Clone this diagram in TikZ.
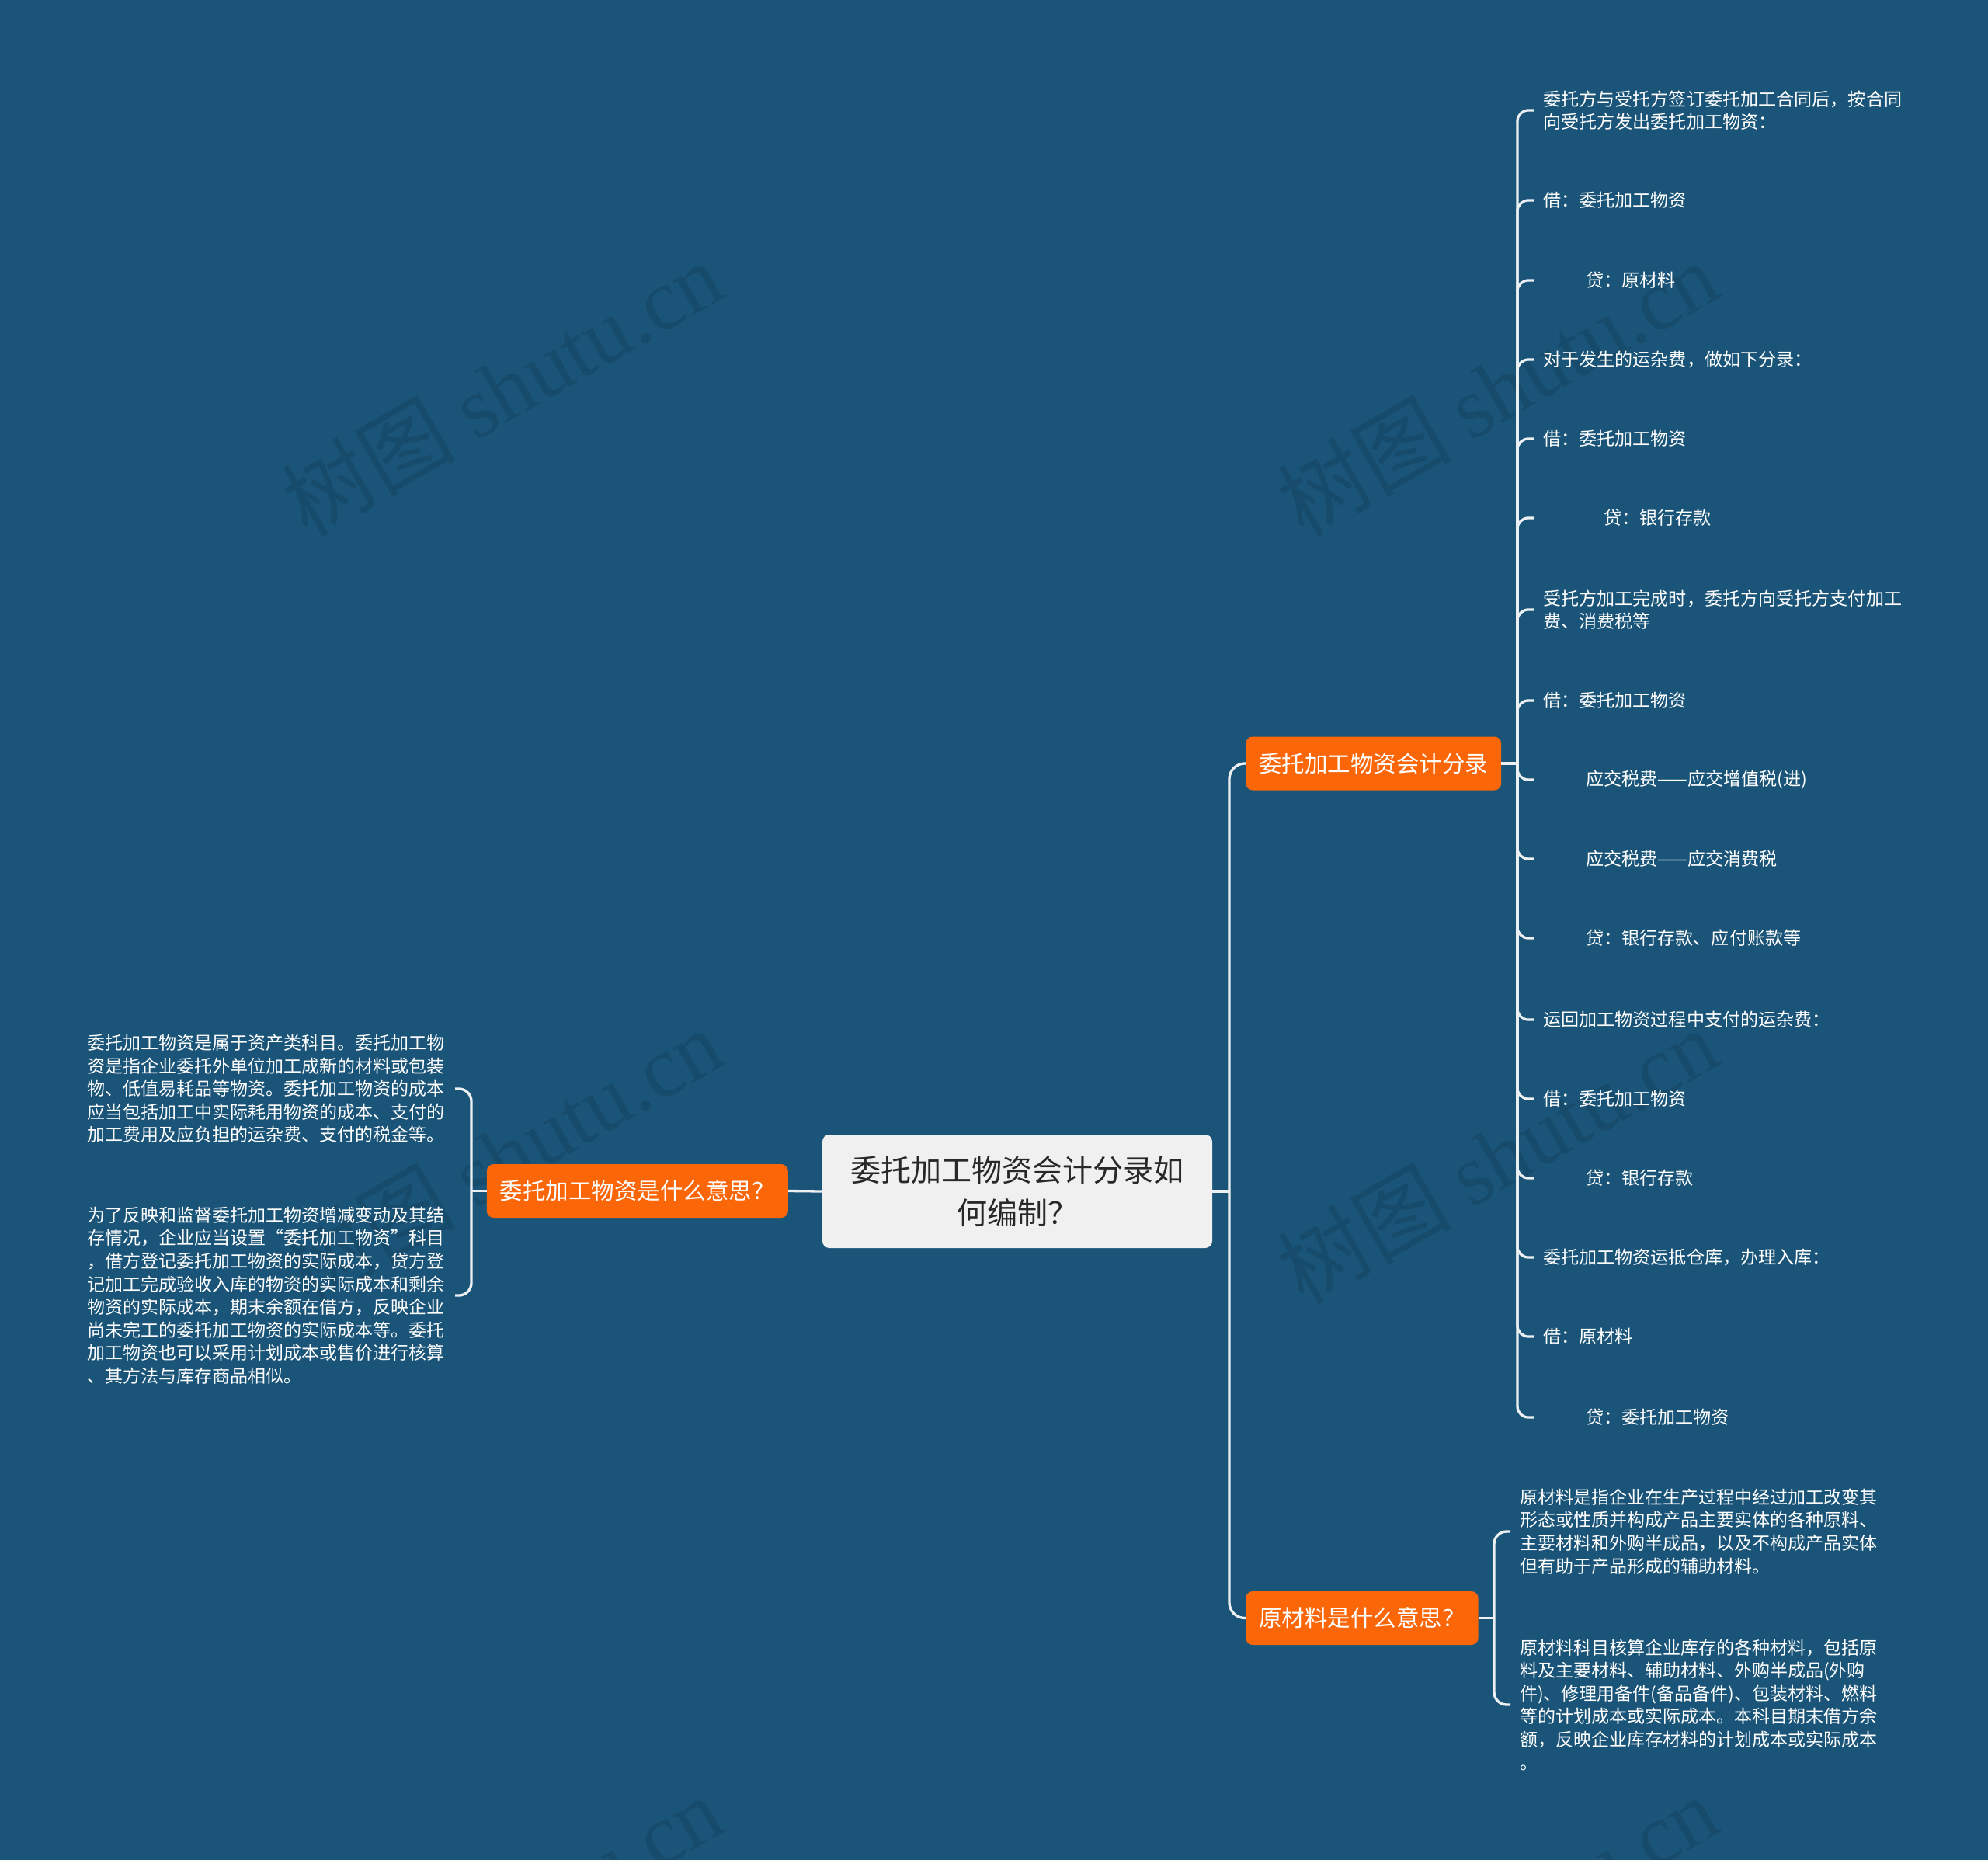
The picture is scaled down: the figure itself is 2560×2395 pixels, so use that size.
\documentclass[tikz,border=0pt]{standalone}
\usepackage{fontspec}
\setmainfont{Noto Sans CJK SC}
\newfontfamily\wmlat{Liberation Serif}
\definecolor{bg}{RGB}{26,84,120}
\definecolor{org}{RGB}{250,102,8}
\definecolor{ln}{RGB}{236,240,243}
\definecolor{rootfill}{RGB}{240,240,241}
\definecolor{roottext}{RGB}{40,40,40}
\tikzset{
  rootbox/.style={fill=rootfill, rounded corners=9, minimum width=502, minimum height=146, text=roottext, align=center, inner sep=0, font=\fontsize{39}{55}\selectfont},
  midbox/.style={fill=org, rounded corners=9, text=white, inner xsep=17, inner ysep=0, minimum height=69, font=\fontsize{29.5}{35}\selectfont},
  leaf/.style={text=white, align=left, inner sep=0, anchor=west, font=\fontsize{23.1}{29}\selectfont},
  bigleaf/.style={text=white, align=left, inner sep=0, anchor=west, font=\fontsize{23}{29.6}\selectfont},
  conn/.style={draw=ln, line width=3.3},
  wm/.style={text=black, opacity=0.1, rotate=30, inner sep=0, font=\fontsize{112}{120}\selectfont}
}
\begin{document}
\begin{tikzpicture}[x=1pt,y=-1pt]
\fill[bg] (0,0) rectangle (2560,2395);
\useasboundingbox (0,0) rectangle (2560,2395);

% watermarks
\begin{scope}
\clip (0,0) rectangle (2560,2395);
\foreach \wx/\wy in {646/500,1928/500,646/1488,1928/1488,646/2476,1928/2476}{
  \node[wm] at (\wx,\wy) {树图 {\wmlat shutu.cn}};
}
\end{scope}

% main nodes
\node[rootbox] (c) at (1310,1534) {委托加工物资会计分录如\\何编制？};
\node[midbox, anchor=west] (n1) at (1604,983) {委托加工物资会计分录};
\node[midbox, anchor=west] (n2) at (1604,2083.5) {原材料是什么意思？};
\node[midbox, anchor=east] (n3) at (1015,1533.5) {委托加工物资是什么意思？};

% coordinates for junctions
\coordinate (trunk) at (1583,1534);
\coordinate (lj) at (607,1533.5);
\coordinate (ltick) at (586,0);
\coordinate (rj) at (1954,983);
\coordinate (rtick) at (1975,0);
\coordinate (rj2) at (1924,2083.5);
\coordinate (rtick2) at (1945,0);

% left leaves
\node[bigleaf] (L1) at (112,1402) {委托加工物资是属于资产类科目。委托加工物\\资是指企业委托外单位加工成新的材料或包装\\物、低值易耗品等物资。委托加工物资的成本\\应当包括加工中实际耗用物资的成本、支付的\\加工费用及应负担的运杂费、支付的税金等。};
\node[bigleaf] (L2) at (112,1668) {为了反映和监督委托加工物资增减变动及其结\\存情况，企业应当设置“委托加工物资”科目\\，借方登记委托加工物资的实际成本，贷方登\\记加工完成验收入库的物资的实际成本和剩余\\物资的实际成本，期末余额在借方，反映企业\\尚未完工的委托加工物资的实际成本等。委托\\加工物资也可以采用计划成本或售价进行核算\\、其方法与库存商品相似。};

% right leaves of n2
\node[bigleaf] (M1) at (1957,1972) {原材料是指企业在生产过程中经过加工改变其\\形态或性质并构成产品主要实体的各种原料、\\主要材料和外购半成品，以及不构成产品实体\\但有助于产品形成的辅助材料。};
\node[bigleaf] (M2) at (1957,2195) {原材料科目核算企业库存的各种材料，包括原\\料及主要材料、辅助材料、外购半成品(外购\\件)、修理用备件(备品备件)、包装材料、燃料\\等的计划成本或实际成本。本科目期末借方余\\额，反映企业库存材料的计划成本或实际成本\\。};

% right leaves of n1
\node[leaf] (r1) at (1987,142) {委托方与受托方签订委托加工合同后，按合同\\向受托方发出委托加工物资：};
\node[leaf] (r2) at (1987,258) {借：委托加工物资};
\node[leaf] (r3) at (2042,361) {贷：原材料};
\node[leaf] (r4) at (1987,463) {对于发生的运杂费，做如下分录：};
\node[leaf] (r5) at (1987,565) {借：委托加工物资};
\node[leaf] (r6) at (2065,667) {贷：银行存款};
\node[leaf] (r7) at (1987,785) {受托方加工完成时，委托方向受托方支付加工\\费、消费税等};
\node[leaf] (r8) at (1987,902) {借：委托加工物资};
\node[leaf] (r9) at (2042,1004) {应交税费——应交增值税(进)};
\node[leaf] (r10) at (2042,1106) {应交税费——应交消费税};
\node[leaf] (r11) at (2042,1208) {贷：银行存款、应付账款等};
\node[leaf] (r12) at (1987,1313) {运回加工物资过程中支付的运杂费：};
\node[leaf] (r13) at (1987,1415) {借：委托加工物资};
\node[leaf] (r14) at (2042,1517) {贷：银行存款};
\node[leaf] (r15) at (1987,1619) {委托加工物资运抵仓库，办理入库：};
\node[leaf] (r16) at (1987,1721) {借：原材料};
\node[leaf] (r17) at (2042,1825) {贷：委托加工物资};

% connectors: trunk
\draw[conn] (c.east) -- (trunk);
\draw[conn, rounded corners=20] (trunk) |- (n1.west);
\draw[conn, rounded corners=20] (trunk) |- (n2.west);
\draw[conn] (n3.east) -- (c.west);

% left bracket
\draw[conn] (n3.west) -- (lj);
\draw[conn, rounded corners=16] (lj) |- (L1.east -| ltick);
\draw[conn, rounded corners=16] (lj) |- (L2.east -| ltick);

% n1 bracket
\draw[conn] (n1.east) -- (rj);
\foreach \r in {r1,r2,r3,r4,r5,r6,r7,r8,r9,r10,r11,r12,r13,r14,r15,r16,r17}{
  \draw[conn, rounded corners=14] (rj) |- (\r.west -| rtick);
}

% n2 bracket
\draw[conn] (n2.east) -- (rj2);
\draw[conn, rounded corners=16] (rj2) |- (M1.west -| rtick2);
\draw[conn, rounded corners=16] (rj2) |- (M2.west -| rtick2);
\end{tikzpicture}
\end{document}
